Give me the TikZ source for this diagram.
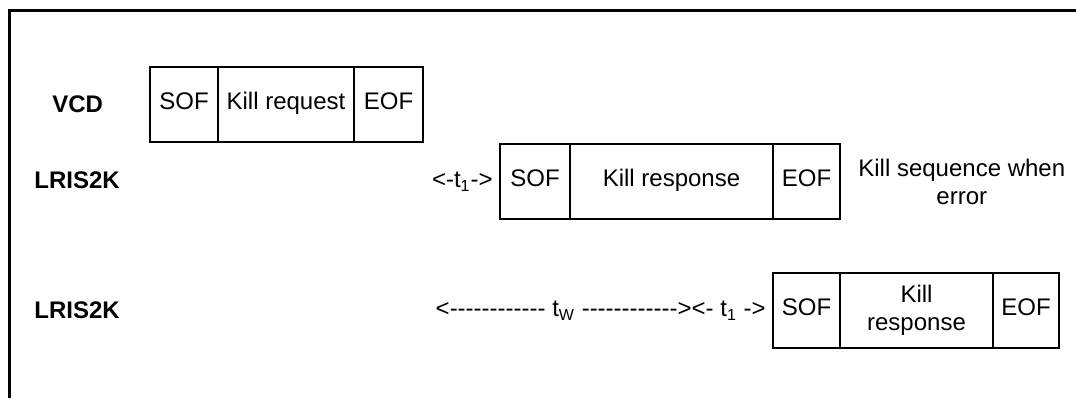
\documentclass[tikz,border=0pt]{standalone}
\usepackage{fontspec}
\setmainfont{Liberation Sans}[Ligatures=TeXOff]
\usetikzlibrary{positioning}
\newcommand{\diagfont}{\fontsize{12}{14}\selectfont}
\tikzset{
    field/.style={
        draw,
        line width=1.2pt,
        outer sep=0pt,
        inner sep=0pt,
        minimum height=37.5pt,
        align=center
    },
    onefield/.style={field, text height=0.72em, text depth=0.2em},
    rowlabel/.style={font=\diagfont\bfseries, anchor=west, inner sep=0pt},
    timing/.style={inner sep=0pt},
    note/.style={align=center, inner sep=0pt},
    frame/.style={line width=1.5pt},
    every node/.style={font=\diagfont}
}
\begin{document}
\begin{tikzpicture}[x=0.5pt, y=-0.5pt]
\useasboundingbox (0,0) rectangle (1076,398);

% outer frame, cut off at right and bottom
\coordinate (ftr) at (1076,10);
\coordinate (ftl) at (9,10);
\coordinate (fbl) at (9,398);
\draw[frame] (ftr) -- (ftl) -- (fbl);

% row labels
\node[rowlabel] (vcd) at (52,104) {VCD};
\node[rowlabel] (lris1) at (34,180) {LRIS2K};
\node[rowlabel] (lris2) at (34,310) {LRIS2K};

% VCD kill request
\node[onefield, minimum width=34pt, anchor=north west] (sof1) at (150,67) {SOF};
\node[onefield, minimum width=68pt, right=0pt of sof1] (req1) {Kill request};
\node[onefield, minimum width=34.5pt, right=0pt of req1] (eof1) {EOF};

% kill response after t1
\node[onefield, minimum width=35pt, anchor=north west] (sof2) at (500,144) {SOF};
\node[onefield, minimum width=101.5pt, right=0pt of sof2] (resp2) {Kill response};
\node[onefield, minimum width=33.5pt, right=0pt of resp2] (eof2) {EOF};
\node[timing, left=3.5pt of sof2] (t1a) {<-t\textsubscript{1}->};
\node[note, right=9pt of eof2] (err) {Kill sequence when\\error};

% kill response after tW and t1
\node[onefield, minimum width=33.5pt, anchor=north west] (sof3) at (773,273) {SOF};
\node[field, minimum width=76.5pt, right=0pt of sof3] (resp3) {Kill\\response};
\node[onefield, minimum width=33pt, right=0pt of resp3] (eof3) {EOF};
\node[timing, left=3.5pt of sof3] (tw) {<------------ t\textsubscript{W} ------------><- t\textsubscript{1} ->};
\end{tikzpicture}
\end{document}
